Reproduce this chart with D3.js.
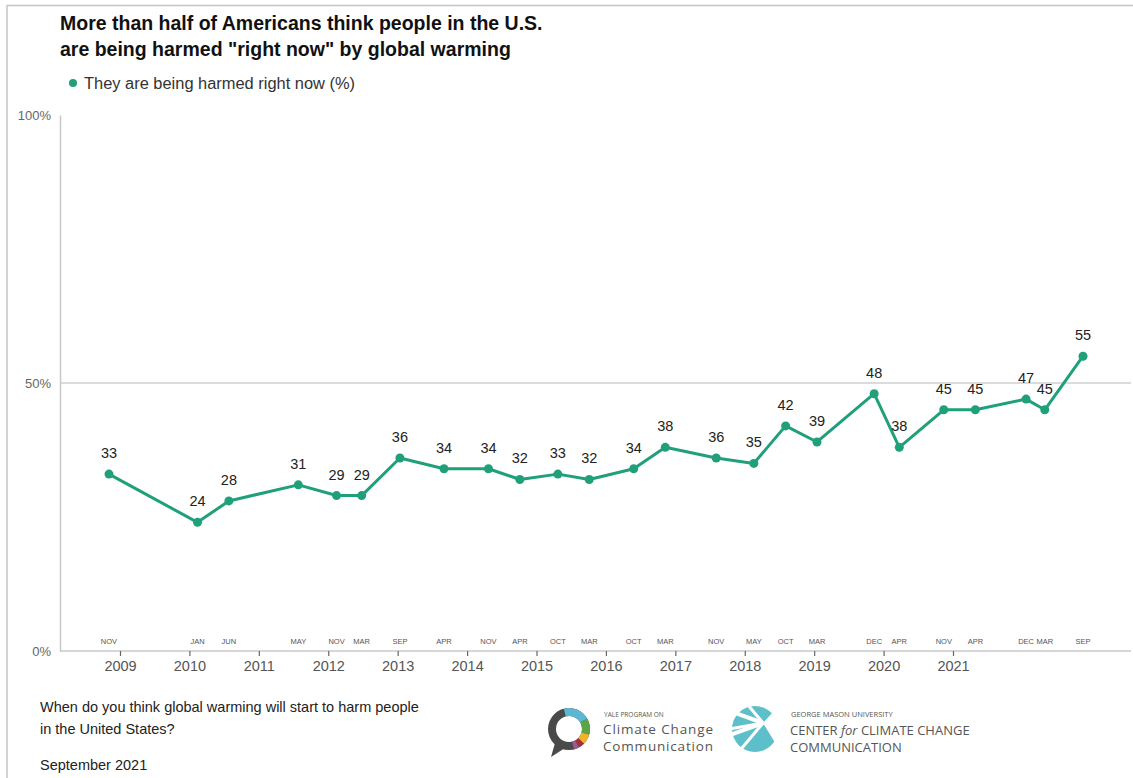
<!DOCTYPE html>
<html>
<head>
<meta charset="utf-8">
<script src="https://cdn.jsdelivr.net/npm/d3@7"></script>
<style>
  body { margin: 0; background: #fff; }
  svg { display: block; font-family: "Liberation Sans", Arial, sans-serif; }
</style>
</head>
<body>
<div id="chart"></div>
<script>
// survey waves (year-month) and share saying people in the U.S. are harmed right now
const surveyDates = ["2008-11","2010-01","2010-06","2011-05","2011-11","2012-03","2012-09","2013-04",
  "2013-11","2014-04","2014-10","2015-03","2015-10","2016-03","2016-11","2017-05","2017-10","2018-03",
  "2018-12","2019-04","2019-11","2020-04","2020-12","2021-03","2021-09"];
const harmedNow = [33,24,28,31,29,29,36,34,34,32,33,32,34,38,36,35,42,39,48,38,45,45,47,45,55];
const yearLabels = [2009,2010,2011,2012,2013,2014,2015,2016,2017,2018,2019,2020,2021];
const yTicks = [0, 50, 100];
const seriesName = "They are being harmed right now (%)";
const titleLines = ["More than half of Americans think people in the U.S.",
  "are being harmed \"right now\" by global warming"];
const questionLines = ["When do you think global warming will start to harm people", "in the United States?"];
const dateNote = "September 2021";

const W = 1133, H = 778;
const green = "#20a07a";
const parseMonth = d3.timeParse("%Y-%m");
const data = surveyDates.map((d, i) => ({date: parseMonth(d), value: harmedNow[i]}));

const svg = d3.select("#chart").append("svg").attr("width", W).attr("height", H);

// frame edges from the original screenshot
svg.append("line").attr("x1", 7).attr("x2", W).attr("y1", 5.5).attr("y2", 5.5)
  .attr("stroke", "#c4c4c4").attr("stroke-width", 1.5);
svg.append("line").attr("x1", 7).attr("x2", 7).attr("y1", 5).attr("y2", H)
  .attr("stroke", "#c4c4c4").attr("stroke-width", 1.5);

const plot = {left: 60, right: 1131, top: 115, bottom: 651};

const x = d3.scaleTime()
  .domain(d3.extent(data, d => d.date))
  .range([109, 1083]);
const xYear = d3.scaleLinear()
  .domain([yearLabels[0], yearLabels[yearLabels.length - 1]])
  .range([120, 953]);
const y = d3.scaleLinear().domain([0, 100]).range([plot.bottom, plot.top]);

// title
svg.append("g").selectAll("text").data(titleLines).join("text")
  .attr("x", 60).attr("y", (d, i) => 30 + i * 26)
  .attr("font-size", "19.5px").attr("font-weight", "bold").attr("fill", "#111")
  .text(d => d);

// legend
svg.append("circle").attr("cx", 73).attr("cy", 83).attr("r", 4).attr("fill", green);
svg.append("text").attr("x", 84).attr("y", 88.5).attr("font-size", "16px").attr("fill", "#333")
  .attr("textLength", 271).attr("lengthAdjust", "spacingAndGlyphs")
  .text(seriesName);

// 50% gridline
svg.append("line").attr("x1", plot.left).attr("x2", plot.right)
  .attr("y1", y(50)).attr("y2", y(50)).attr("stroke", "#cfcfcf").attr("stroke-width", 1.5);

// y axis
const yAxis = svg.append("g").attr("transform", `translate(${plot.left},0)`)
  .call(d3.axisLeft(y).tickValues(yTicks).tickFormat(d => d + "%").tickSize(0).tickPadding(9));
yAxis.select(".domain").attr("stroke", "#c8c8c8").attr("stroke-width", 1.5);
yAxis.selectAll("text").attr("font-size", "13px").attr("fill", "#666")
  .attr("font-family", "Liberation Sans, Arial, sans-serif");

// baseline
svg.append("line").attr("x1", plot.left).attr("x2", plot.right)
  .attr("y1", plot.bottom).attr("y2", plot.bottom).attr("stroke", "#c8c8c8").attr("stroke-width", 1.5);

// year axis
const xAxis = svg.append("g").attr("transform", `translate(0,${plot.bottom})`)
  .call(d3.axisBottom(xYear).tickValues(yearLabels).tickFormat(d3.format("d")).tickSize(5).tickPadding(5));
xAxis.select(".domain").remove();
xAxis.selectAll("line").attr("stroke", "#666").attr("stroke-width", 1.2);
xAxis.selectAll("text").attr("font-size", "14.5px").attr("fill", "#555")
  .attr("font-family", "Liberation Sans, Arial, sans-serif");

// survey month labels
const fmtMonth = d3.timeFormat("%b");
svg.append("g").selectAll("text").data(data).join("text")
  .attr("x", d => x(d.date)).attr("y", plot.bottom - 7)
  .attr("text-anchor", "middle").attr("font-size", "7.5px").attr("fill", "#555")
  .text(d => fmtMonth(d.date).toUpperCase());

// series line + points
const line = d3.line().x(d => x(d.date)).y(d => y(d.value));
svg.append("path").datum(data).attr("d", line)
  .attr("fill", "none").attr("stroke", green).attr("stroke-width", 3).attr("stroke-linejoin", "round");
svg.append("g").selectAll("circle").data(data).join("circle")
  .attr("cx", d => x(d.date)).attr("cy", d => y(d.value)).attr("r", 4.5).attr("fill", green);
svg.append("g").selectAll("text").data(data).join("text")
  .attr("x", d => x(d.date)).attr("y", d => y(d.value) - 16)
  .attr("text-anchor", "middle").attr("font-size", "14.5px").attr("fill", "#222")
  .text(d => d.value);

// footer notes
svg.append("g").selectAll("text").data(questionLines).join("text")
  .attr("x", 40).attr("y", (d, i) => 712 + i * 22)
  .attr("font-size", "14.5px").attr("fill", "#222").text(d => d);
svg.append("text").attr("x", 40).attr("y", 770).attr("font-size", "14.5px").attr("fill", "#222").text(dateNote);

//////////////// Yale logo ////////////////
const yale = svg.append("g").attr("transform", "translate(569,729)");
const ringArc = d3.arc().innerRadius(13).outerRadius(21);
yale.append("path").attr("d", ringArc({startAngle: 0, endAngle: 2 * Math.PI})).attr("fill", "#4a4a4a");
[[-0.25, 1.05, "#5db7d2"], [1.05, 1.85, "#5aa545"], [1.85, 2.35, "#efb42a"],
 [2.35, 2.65, "#a3303a"], [2.65, 2.9, "#9a5b8e"]].forEach(s => {
  yale.append("path").attr("d", ringArc({startAngle: s[0], endAngle: s[1]})).attr("fill", s[2]);
});
yale.append("path").attr("d", "M-14,14 L-18,28 L-4,19 Z").attr("fill", "#4a4a4a");
const yaleText = svg.append("g").attr("font-family", "'Open Sans', sans-serif").attr("fill", "#555");
yaleText.append("text").attr("x", 604).attr("y", 717).attr("font-size", "6.5px").text("YALE PROGRAM ON");
yaleText.append("text").attr("x", 603).attr("y", 734).attr("font-size", "13.5px")
  .attr("textLength", 110).attr("lengthAdjust", "spacing").text("Climate Change");
yaleText.append("text").attr("x", 603).attr("y", 751).attr("font-size", "13.5px")
  .attr("textLength", 110).attr("lengthAdjust", "spacing").text("Communication");

//////////////// GMU logo ////////////////
const gmu = svg.append("g").attr("transform", "translate(755,729)");
gmu.append("circle").attr("r", 23).attr("fill", "#5cbfc9");
[[-160, 4], [-130, 3], [160, 4], [130, 3], [-190, 3]].forEach(s => {
  const a = s[0] * Math.PI / 180;
  gmu.append("line").attr("x1", 8).attr("y1", -6)
    .attr("x2", 8 + 34 * Math.cos(a)).attr("y2", -6 + 34 * Math.sin(a))
    .attr("stroke", "#fff").attr("stroke-width", s[1]);
});
gmu.append("path").attr("d", "M8,-6 L30,-30 L30,30 Z").attr("fill", "#fff");
const gmuText = svg.append("g").attr("font-family", "'Open Sans', sans-serif").attr("fill", "#555");
gmuText.append("text").attr("x", 791).attr("y", 717).attr("font-size", "7.5px").text("GEORGE MASON UNIVERSITY");
const c1 = gmuText.append("text").attr("x", 790).attr("y", 735).attr("font-size", "13px");
c1.append("tspan").text("CENTER ");
c1.append("tspan").attr("font-style", "italic").text("for");
c1.append("tspan").text(" CLIMATE CHANGE");
gmuText.append("text").attr("x", 790).attr("y", 752).attr("font-size", "13px").text("COMMUNICATION");
</script>
</body>
</html>
